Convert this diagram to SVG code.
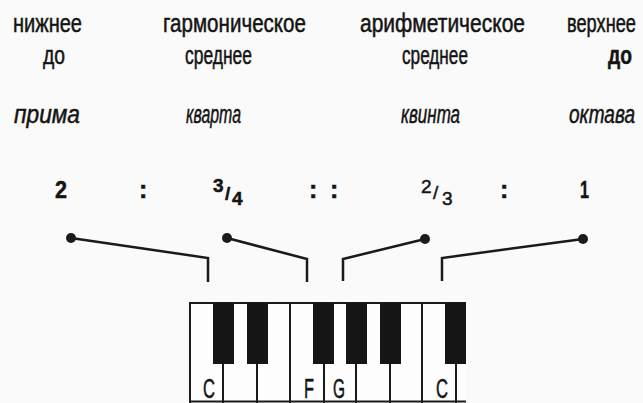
<svg xmlns="http://www.w3.org/2000/svg" width="643" height="403" viewBox="0 0 643 403">
<style>
.t{font-family:"Liberation Sans",Arial,sans-serif;font-size:25px;fill:#141414;stroke:#141414;stroke-width:0.5}
.i{font-style:italic}
.b{font-weight:bold}
.e{text-anchor:end}
.n{font-size:24px;font-weight:bold}
.f{font-size:19px}
.k{font-size:27px}
.ln{fill:none;stroke:#1a1a1a;stroke-width:2.5}
.dot{fill:#1a1a1a}
.kl{stroke:#1a1a1a;stroke-width:2}
.bk{fill:#151515}
</style>
<rect width="643" height="403" fill="#fafafa"/>

<g id="lower">
<text class="t" x="13" y="32" textLength="69" lengthAdjust="spacingAndGlyphs">нижнее</text>
<text class="t" x="43" y="64" textLength="22" lengthAdjust="spacingAndGlyphs">до</text>
<text class="t i" x="14" y="123" textLength="66" lengthAdjust="spacingAndGlyphs">прима</text>
<text class="t n" x="55" y="198" textLength="12" lengthAdjust="spacingAndGlyphs">2</text>
</g>

<g id="harmonic">
<text class="t" x="163" y="32" textLength="143" lengthAdjust="spacingAndGlyphs">гармоническое</text>
<text class="t" x="185" y="64" textLength="67" lengthAdjust="spacingAndGlyphs">среднее</text>
<text class="t i" x="186" y="123" textLength="55" lengthAdjust="spacingAndGlyphs">кварта</text>
<text class="t f b" x="213" y="192">3<tspan x="225" y="200">/</tspan><tspan x="232" y="205">4</tspan></text>
</g>

<g id="arithmetic">
<text class="t" x="360" y="32" textLength="165" lengthAdjust="spacingAndGlyphs">арифметическое</text>
<text class="t" x="402" y="64" textLength="66" lengthAdjust="spacingAndGlyphs">среднее</text>
<text class="t i" x="401" y="123" textLength="59" lengthAdjust="spacingAndGlyphs">квинта</text>
<text class="t f" x="421" y="193">2<tspan x="433" y="199">/</tspan><tspan x="442" y="205">3</tspan></text>
</g>

<g id="upper">
<text class="t e" transform="translate(636,32) scale(0.78,1)" textLength="88.5" lengthAdjust="spacingAndGlyphs">верхнее</text>
<text class="t b e" transform="translate(632,64) scale(0.8,1)" textLength="30" lengthAdjust="spacingAndGlyphs">до</text>
<text class="t i e" transform="translate(635,123) scale(0.78,1)" textLength="84.6" lengthAdjust="spacingAndGlyphs">октава</text>
<text class="t n" x="580" y="198" textLength="9" lengthAdjust="spacingAndGlyphs">1</text>
</g>

<g id="colons">
<text class="t b" x="139" y="198" font-size="22">:</text>
<text class="t b" x="309" y="198" font-size="22">:</text>
<text class="t b" x="330" y="198" font-size="22">:</text>
<text class="t b" x="500" y="198" font-size="22">:</text>
</g>

<g id="connectors">
<polyline class="ln" points="71,238 208,258 208,282"/>
<polyline class="ln" points="227,238 307,259 307,282"/>
<polyline class="ln" points="425,239 343,259 343,281"/>
<polyline class="ln" points="583,239 442,258 442,281"/>
<circle class="dot" cx="71" cy="238" r="5"/>
<circle class="dot" cx="227" cy="238" r="5"/>
<circle class="dot" cx="425" cy="239" r="5"/>
<circle class="dot" cx="583" cy="239" r="5"/>
</g>

<g id="keyboard">
<rect x="190" y="303" width="276" height="100" fill="#fdfdfd"/>
<line class="kl" x1="190" y1="302" x2="190" y2="403" stroke-width="2.5"/>
<line class="kl" x1="223" y1="303" x2="223" y2="403"/>
<line class="kl" x1="257" y1="303" x2="257" y2="403"/>
<line class="kl" x1="290" y1="303" x2="290" y2="403"/>
<line class="kl" x1="324" y1="303" x2="324" y2="403"/>
<line class="kl" x1="356" y1="303" x2="356" y2="403"/>
<line class="kl" x1="390" y1="303" x2="390" y2="403"/>
<line class="kl" x1="422" y1="303" x2="422" y2="403"/>
<line class="kl" x1="456" y1="303" x2="456" y2="403"/>
<line class="kl" x1="189" y1="401.5" x2="466" y2="401.5"/>
<line class="kl" x1="189" y1="303" x2="466" y2="303" stroke-width="3"/>
<rect class="bk" x="213" y="303" width="21" height="61"/>
<rect class="bk" x="247" y="303" width="21" height="61"/>
<rect class="bk" x="313" y="303" width="21" height="61"/>
<rect class="bk" x="346" y="303" width="21" height="61"/>
<rect class="bk" x="380" y="303" width="21" height="61"/>
<rect class="bk" x="445" y="303" width="21" height="61"/>
<text class="t k" x="203" y="398" textLength="12" lengthAdjust="spacingAndGlyphs">C</text>
<text class="t k" x="304" y="398" textLength="10" lengthAdjust="spacingAndGlyphs">F</text>
<text class="t k" x="333" y="398" textLength="12" lengthAdjust="spacingAndGlyphs">G</text>
<text class="t k" x="436" y="398" textLength="12" lengthAdjust="spacingAndGlyphs">C</text>
</g>
</svg>
